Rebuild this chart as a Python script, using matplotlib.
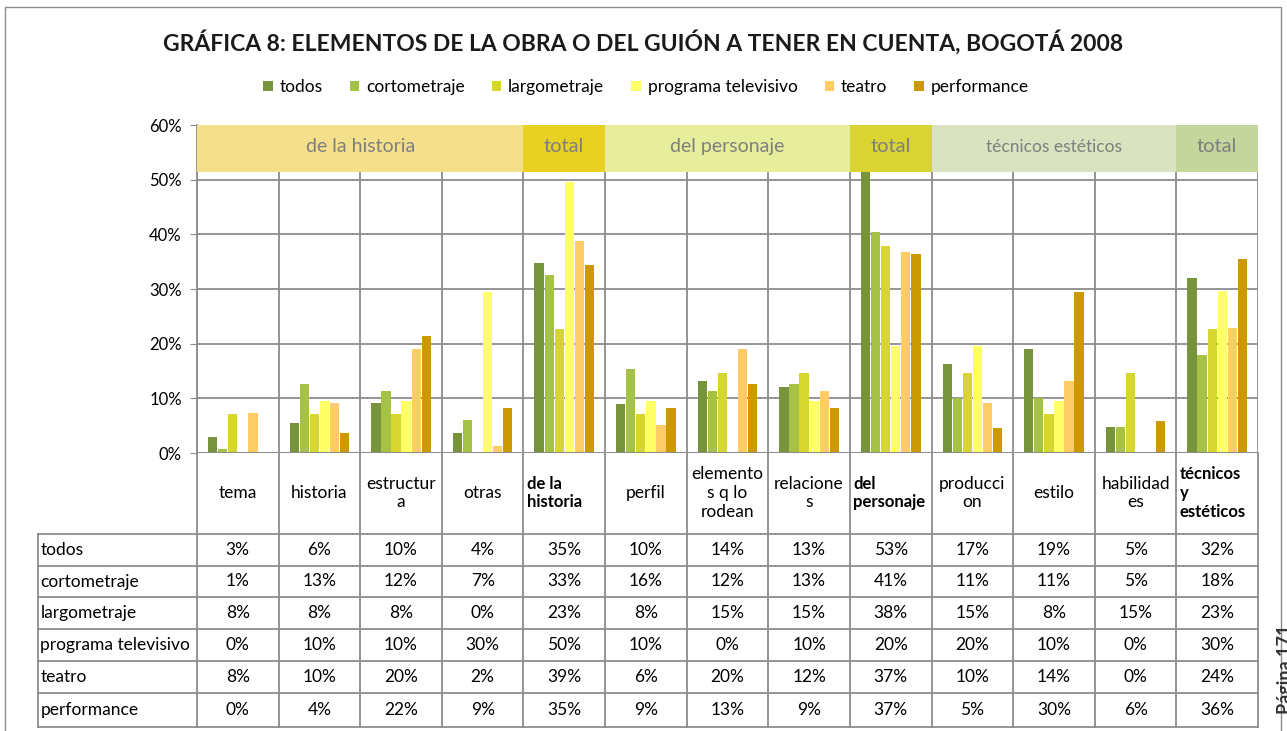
import numpy as np
import matplotlib.pyplot as plt
from matplotlib.patches import Rectangle, Patch

plt.rcParams['font.family'] = ['Lato', 'DejaVu Sans']

#categories (x axis / table header)
cats = ['tema', 'historia', 'estructur\na', 'otras', 'de la\nhistoria', 'perfil',
        'elemento\ns q lo\nrodean', 'relacione\ns', 'del\npersonaje', 'producci\non',
        'estilo', 'habilidad\nes', 'técnicos\ny\nestéticos']
bold_cats = [4, 8, 12]

series = ['todos', 'cortometraje', 'largometraje', 'programa televisivo', 'teatro', 'performance']
colors = ['#77933C', '#A6C244', '#D7D52F', '#FFFF66', '#FFCC66', '#CC9900']

#bar heights (%)
todos = [3.0, 5.5, 9.2, 3.7, 34.8, 9.0, 13.2, 12.1, 53.0, 16.3, 19.0, 4.8, 32.0]
corto = [0.7, 12.6, 11.3, 6.0, 32.5, 15.4, 11.3, 12.6, 40.4, 10.1, 10.1, 4.8, 18.0]
largo = [7.1, 7.1, 7.1, 0.0, 22.7, 7.1, 14.7, 14.7, 37.9, 14.7, 7.1, 14.7, 22.7]
prog = [0.0, 9.5, 9.5, 29.5, 49.6, 9.5, 0.0, 9.5, 19.6, 19.6, 9.5, 0.0, 29.6]
teatro = [7.4, 9.2, 19.0, 1.3, 38.7, 5.2, 19.0, 11.3, 36.8, 9.2, 13.2, 0.0, 22.9]
perf = [0.0, 3.7, 21.4, 8.2, 34.3, 8.2, 12.6, 8.2, 36.4, 4.5, 29.5, 5.9, 35.4]
bars = [todos, corto, largo, prog, teatro, perf]

#values printed in the data table (%)
tab_todos = [3, 6, 10, 4, 35, 10, 14, 13, 53, 17, 19, 5, 32]
tab_corto = [1, 13, 12, 7, 33, 16, 12, 13, 41, 11, 11, 5, 18]
tab_largo = [8, 8, 8, 0, 23, 8, 15, 15, 38, 15, 8, 15, 23]
tab_prog = [0, 10, 10, 30, 50, 10, 0, 10, 20, 20, 10, 0, 30]
tab_teatro = [8, 10, 20, 2, 39, 6, 20, 12, 37, 10, 14, 0, 24]
tab_perf = [0, 4, 22, 9, 35, 9, 13, 9, 37, 5, 30, 6, 36]
table = [tab_todos, tab_corto, tab_largo, tab_prog, tab_teatro, tab_perf]

#group header boxes: (label, first cat, last cat, colour, fontsize)
groups = [('de la historia', 0, 3, '#F4DF8A', 14),
          ('total', 4, 4, '#E8D122', 14.5),
          ('del personaje', 5, 7, '#E6EE9B', 14),
          ('total', 8, 8, '#D9D431', 14.5),
          ('técnicos estéticos', 9, 11, '#D9E3BF', 12.5),
          ('total', 12, 12, '#C4D69B', 14.5)]

W, H = 1287, 731
grey = '#8C8C8C'

def px_rect(x0, y0, x1, y1):
    return [x0 / W, 1 - y1 / H, (x1 - x0) / W, (y1 - y0) / H]

fig = plt.figure(figsize=(W / 100, H / 100), dpi=100)

#outer frame
fig.patches.append(Rectangle((5 / W, -0.05), 1276 / W, 1.05 - 7 / H, transform=fig.transFigure,
                             fill=False, edgecolor=grey, lw=1))

fig.text(643 / W, 1 - 42 / H, 'GRÁFICA 8: ELEMENTOS DE LA OBRA O DEL GUIÓN A TENER EN CUENTA, BOGOTÁ 2008',
         ha='center', va='center', fontsize=16.5, fontweight='bold', color='#1a1a1a')

handles = [Patch(facecolor=c, label=s) for s, c in zip(series, colors)]
fig.legend(handles=handles, loc='center', bbox_to_anchor=(646 / W, 1 - 87 / H), ncol=6,
           frameon=False, fontsize=12.5, handlelength=0.55, handleheight=0.55,
           handletextpad=0.4, columnspacing=1.55)

#bar chart
ax = fig.add_axes(px_rect(197, 125, 1258, 453))
x = np.arange(len(cats))
n = len(series)
group_w = 0.74
bw = group_w / n
for i, (vals, c) in enumerate(zip(bars, colors)):
    ax.bar(x - group_w / 2 + bw * (i + 0.5), np.array(vals) / 100, width=bw * 0.92,
           color=c, edgecolor='none', zorder=3)

ax.set_xlim(-0.5, len(cats) - 0.5)
ax.set_ylim(0, 0.6)
ax.set_yticks(np.arange(0, 0.61, 0.1))
ax.set_yticklabels([f'{int(round(v * 100))}%' for v in np.arange(0, 0.61, 0.1)], fontsize=12)
ax.set_xticks([])
ax.tick_params(axis='y', length=5, color=grey, pad=6)
ax.grid(axis='y', color=grey, lw=1.3, zorder=1)
for k in range(len(cats) + 1):
    ax.axvline(k - 0.5, color=grey, lw=1.3, zorder=1)
for s in ax.spines.values():
    s.set_visible(False)
ax.spines['left'].set_visible(True)
ax.spines['left'].set_color(grey)
ax.spines['left'].set_linewidth(1.3)
ax.axhline(0, color=grey, lw=1.5, zorder=4)

for label, a, b, c, fs in groups:
    ax.add_patch(Rectangle((a - 0.5, 0.514), b - a + 1, 0.086, facecolor=c, edgecolor='none',
                           zorder=5, clip_on=False))
    ax.text((a + b) / 2, 0.56, label, ha='center', va='center', fontsize=fs,
            color='#7F7F7F', zorder=6)

#data table under the chart
ta = fig.add_axes(px_rect(38, 453, 1258, 727))
cw = (1258 - 197) / len(cats)
left = -0.5 - (197 - 38) / cw
ta.set_xlim(left, len(cats) - 0.5)
ta.set_ylim(274, 0)
ta.axis('off')
rows = [81, 113, 144, 176, 208, 240, 274]
for r in rows:
    ta.plot([left, len(cats) - 0.5], [r, r], color=grey, lw=1.3, clip_on=False)
ta.plot([left, left], [81, 274], color=grey, lw=1.3, clip_on=False)
for k in range(len(cats) + 1):
    ta.plot([k - 0.5, k - 0.5], [0, 274], color=grey, lw=1.3, clip_on=False)

for k, lab in enumerate(cats):
    if k in bold_cats:
        ta.text(k - 0.46, 40, lab, ha='left', va='center', fontsize=12, fontweight='bold',
                linespacing=1.2)
    else:
        ta.text(k, 40, lab, ha='center', va='center', fontsize=12.5, linespacing=1.2)

for j, (name, vals) in enumerate(zip(series, table)):
    yc = (rows[j] + rows[j + 1]) / 2
    ta.text(left + 0.03, yc, name, ha='left', va='center', fontsize=12.5)
    for k, v in enumerate(vals):
        ta.text(k, yc, f'{v}%', ha='center', va='center', fontsize=12.5)

fig.text(1286 / W, 1 - 625 / H, 'Página 171', rotation=90, ha='center', va='top',
         fontsize=13, fontweight='bold', color='#333333')

fig.savefig('out.png', dpi=100)
